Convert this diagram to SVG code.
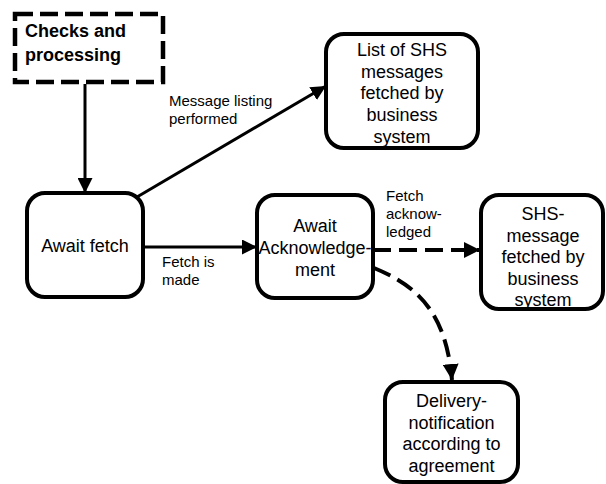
<svg xmlns="http://www.w3.org/2000/svg" width="606" height="484" viewBox="0 0 606 484">
  <defs>
    <marker id="arrow" viewBox="0 0 10 10" refX="10" refY="5" markerWidth="5" markerHeight="5" markerUnits="strokeWidth" orient="auto">
      <path d="M0,0 L10,5 L0,10 z" fill="#000"/>
    </marker>
    <marker id="arrowDash" viewBox="0 0 10 10" refX="10" refY="5" markerWidth="4" markerHeight="4" markerUnits="strokeWidth" orient="auto">
      <path d="M0,0 L10,5 L0,10 z" fill="#000"/>
    </marker>
  </defs>
  <style>
    .node { fill: #fff; stroke: #000; stroke-width: 4; }
    .dashed { fill: #fff; stroke: #000; stroke-width: 4.5; stroke-dasharray: 18 7; }
    .txt { font-family: "Liberation Sans", Arial, sans-serif; font-size: 18px; fill: #000; text-anchor: middle; }
    .bold { font-family: "Liberation Sans", Arial, sans-serif; font-size: 18px; font-weight: bold; fill: #000; }
    .lbl { font-family: "Liberation Sans", Arial, sans-serif; font-size: 15px; fill: #000; }
    .edge { fill: none; stroke: #000; stroke-width: 3; }
    .edge-dash { fill: none; stroke: #000; stroke-width: 4; stroke-dasharray: 18 8; }
  </style>

  <rect width="606" height="484" fill="#fff"/>

  <!-- connectors -->
  <g id="connectors">
    <line class="edge" x1="85" y1="84" x2="85" y2="193" marker-end="url(#arrow)"/>
    <line class="edge" x1="137" y1="197" x2="326" y2="86" marker-end="url(#arrow)"/>
    <line class="edge" x1="143" y1="247" x2="257" y2="247" marker-end="url(#arrow)"/>
    <line class="edge-dash" x1="373" y1="250" x2="480" y2="250" marker-end="url(#arrowDash)"/>
    <path class="edge-dash" d="M374,268 C415,285 446,310 452,380" marker-end="url(#arrowDash)"/>
    <text class="lbl" x="169" y="106">Message listing</text>
    <text class="lbl" x="169" y="124">performed</text>
    <text class="lbl" x="162" y="267">Fetch is</text>
    <text class="lbl" x="162" y="285">made</text>
    <text class="lbl" x="386" y="201">Fetch</text>
    <text class="lbl" x="386" y="219">acknow-</text>
    <text class="lbl" x="386" y="237">ledged</text>
  </g>

  <g id="checks">
    <rect class="dashed" x="15" y="14" width="148" height="68"/>
    <text class="bold" x="25" y="37">Checks and</text>
    <text class="bold" x="25" y="61">processing</text>
  </g>

  <g id="await-fetch">
    <rect class="node" x="27" y="193" width="116" height="104" rx="18"/>
    <text class="txt" x="85" y="252">Await fetch</text>
  </g>

  <g id="list-fetched">
    <rect class="node" x="326" y="34" width="152" height="114" rx="18"/>
    <text class="txt" x="402" y="56">List of SHS</text>
    <text class="txt" x="402" y="77.7">messages</text>
    <text class="txt" x="402" y="99.4">fetched by</text>
    <text class="txt" x="402" y="121.1">business</text>
    <text class="txt" x="402" y="142.8">system</text>
  </g>

  <g id="await-ack">
    <rect class="node" x="257" y="195" width="116" height="103" rx="18"/>
    <text class="txt" x="315" y="232">Await</text>
    <text class="txt" x="315" y="254">Acknowledge-</text>
    <text class="txt" x="315" y="276">ment</text>
  </g>

  <g id="message-fetched">
    <rect class="node" x="481" y="195" width="122" height="114" rx="18"/>
    <text class="txt" x="543" y="220">SHS-</text>
    <text class="txt" x="543" y="241.5">message</text>
    <text class="txt" x="543" y="263">fetched by</text>
    <text class="txt" x="543" y="284.5">business</text>
    <text class="txt" x="543" y="306">system</text>
  </g>

  <g id="delivery-notification">
    <rect class="node" x="385" y="382" width="133" height="100" rx="18"/>
    <text class="txt" x="451.5" y="407">Delivery-</text>
    <text class="txt" x="451.5" y="428.7">notification</text>
    <text class="txt" x="451.5" y="450.4">according to</text>
    <text class="txt" x="451.5" y="472">agreement</text>
  </g>
</svg>
